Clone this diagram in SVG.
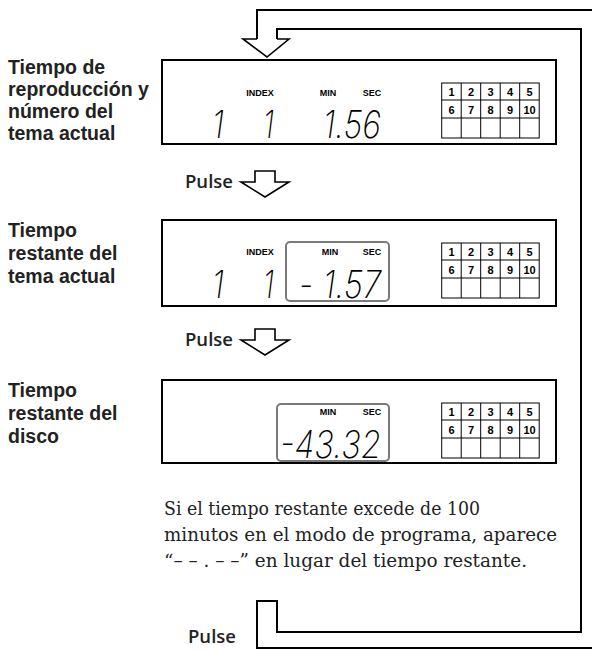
<svg xmlns="http://www.w3.org/2000/svg" width="592" height="650" viewBox="0 0 592 650">
<defs>
<style>
.box{fill:none;stroke:#000;stroke-width:2}
.win{fill:none;stroke:#7a7a7a;stroke-width:2}
.grid{fill:none;stroke:#000;stroke-width:1}
.arrow{fill:#fff;stroke:#000;stroke-width:1.6;stroke-linejoin:miter}
.loop{fill:none;stroke:#000;stroke-width:2}
.lbl{font-family:"Liberation Sans",Arial,sans-serif;font-weight:bold;font-size:19.5px;fill:#222}
.pulse{font-family:"Open Sans","Noto Sans",sans-serif;font-weight:600;font-size:18.5px;fill:#222}
.tiny{font-family:"Liberation Sans",Arial,sans-serif;font-weight:bold;font-size:9px;fill:#000;text-anchor:middle}
.num{font-family:"Liberation Sans",Arial,sans-serif;font-weight:bold;font-size:11px;fill:#000;text-anchor:middle}
.lcd{font-family:Inter,Roboto,Lato,sans-serif;font-weight:200;font-style:italic;font-size:38px;fill:#000}
.para{font-family:"DejaVu Serif","Liberation Serif",serif;font-size:18px;fill:#222}
</style>
<g id="gridtpl">
<rect class="grid" x="441.7" y="23" width="97.5" height="55"/>
<line class="grid" x1="441.7" y1="40" x2="539.2" y2="40"/>
<line class="grid" x1="441.7" y1="58" x2="539.2" y2="58"/>
<line class="grid" x1="461.2" y1="23" x2="461.2" y2="78"/>
<line class="grid" x1="480.7" y1="23" x2="480.7" y2="78"/>
<line class="grid" x1="500.2" y1="23" x2="500.2" y2="78"/>
<line class="grid" x1="519.7" y1="23" x2="519.7" y2="78"/>
<text class="num" x="451.5" y="36">1</text>
<text class="num" x="471" y="36">2</text>
<text class="num" x="490.5" y="36">3</text>
<text class="num" x="510" y="36">4</text>
<text class="num" x="529.5" y="36">5</text>
<text class="num" x="451.5" y="54">6</text>
<text class="num" x="471" y="54">7</text>
<text class="num" x="490.5" y="54">8</text>
<text class="num" x="510" y="54">9</text>
<text class="num" x="529.5" y="54">10</text>
</g>
</defs>

<g id="connectors">
<path class="loop" d="M592,648 H257 V601 H277 V632 H581 V29 H277 V39"/>
<path class="loop" d="M257,39 V10 H592"/>
<path class="arrow" d="M257,39 H243 L267,57 L289,39 H277"/>
<path class="arrow" d="M255,171 H275 V182 H289 L265,197 L241,182 H255 Z"/>
<path class="arrow" d="M255,329 H275 V340 H289 L265,355 L241,340 H255 Z"/>
</g>

<g id="label1">
<text class="lbl" x="8" y="74">Tiempo de</text>
<text class="lbl" x="8" y="96">reproducción y</text>
<text class="lbl" x="8" y="118">número del</text>
<text class="lbl" x="8" y="140">tema actual</text>
</g>
<g id="label2">
<text class="lbl" x="8" y="237">Tiempo</text>
<text class="lbl" x="8" y="260">restante del</text>
<text class="lbl" x="8" y="283">tema actual</text>
</g>
<g id="label3">
<text class="lbl" x="8" y="397">Tiempo</text>
<text class="lbl" x="8" y="420">restante del</text>
<text class="lbl" x="8" y="443">disco</text>
</g>

<g id="display1">
<rect class="box" x="162" y="60" width="394" height="84"/>
<text class="tiny" x="260" y="96">INDEX</text>
<text class="tiny" x="328" y="96">MIN</text>
<text class="tiny" x="372" y="96">SEC</text>
<text class="lcd" x="212" y="138" textLength="12" lengthAdjust="spacingAndGlyphs">1</text>
<text class="lcd" x="263" y="138" textLength="11" lengthAdjust="spacingAndGlyphs">1</text>
<text class="lcd" x="323" y="138" textLength="58" lengthAdjust="spacingAndGlyphs">1.56</text>
<use href="#gridtpl" transform="translate(0,60)"/>
</g>

<g id="pulse1">
<text class="pulse" x="185" y="188">Pulse</text>
</g>

<g id="display2">
<rect class="box" x="162" y="220" width="394" height="86"/>
<rect class="win" x="286" y="242" width="103" height="59" rx="4"/>
<text class="tiny" x="260" y="255">INDEX</text>
<text class="tiny" x="330" y="255">MIN</text>
<text class="tiny" x="372" y="255">SEC</text>
<text class="lcd" x="212" y="298" textLength="12" lengthAdjust="spacingAndGlyphs">1</text>
<text class="lcd" x="263" y="298" textLength="11" lengthAdjust="spacingAndGlyphs">1</text>
<text class="lcd" x="299" y="298" textLength="14" lengthAdjust="spacingAndGlyphs">-</text>
<text class="lcd" x="323" y="298" textLength="58" lengthAdjust="spacingAndGlyphs">1.57</text>
<use href="#gridtpl" transform="translate(0,220)"/>
</g>

<g id="pulse2">
<text class="pulse" x="185" y="346">Pulse</text>
</g>

<g id="display3">
<rect class="box" x="162" y="380" width="394" height="83"/>
<rect class="win" x="277" y="404" width="112" height="57" rx="4"/>
<text class="tiny" x="328" y="415">MIN</text>
<text class="tiny" x="372" y="415">SEC</text>
<text class="lcd" x="280" y="458" textLength="101" lengthAdjust="spacingAndGlyphs">-43.32</text>
<use href="#gridtpl" transform="translate(0,380)"/>
</g>

<g id="note">
<text class="para" x="164" y="515" textLength="316" lengthAdjust="spacingAndGlyphs">Si el tiempo restante excede de 100</text>
<text class="para" x="164" y="541" textLength="393" lengthAdjust="spacingAndGlyphs">minutos en el modo de programa, aparece</text>
<text class="para" x="164" y="567" textLength="363" lengthAdjust="spacingAndGlyphs">“– – . – –” en lugar del tiempo restante.</text>
</g>

<g id="pulse3">
<text class="pulse" x="188" y="643">Pulse</text>
</g>
</svg>
